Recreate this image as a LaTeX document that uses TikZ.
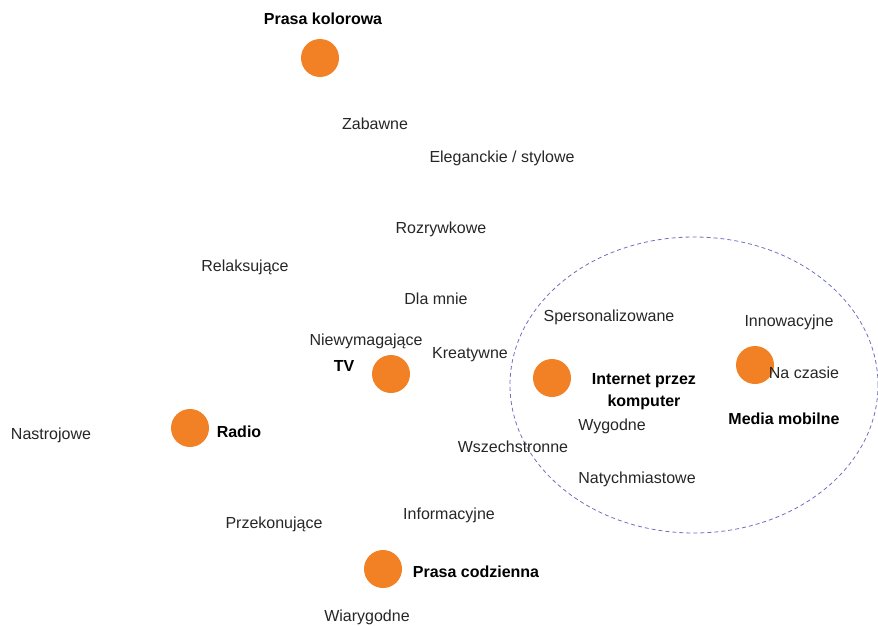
\documentclass[tikz,border=0pt]{standalone}
\usepackage{fontspec}
\setmainfont{Liberation Sans}
\usepackage{tikz}
\usetikzlibrary{positioning}
\definecolor{mediaorange}{RGB}{242,128,36}
\definecolor{clusterblue}{RGB}{112,112,192}
\tikzset{
  medium/.style={circle, fill=mediaorange, minimum size=38pt, inner sep=0pt},
  mediumlabel/.style={font=\fontsize{16}{22}\selectfont\bfseries, inner sep=0pt, align=center},
  trait/.style={inner sep=0pt, text=black!85},
  cluster/.style={draw=clusterblue, dash pattern=on 4pt off 3pt, line width=0.8pt}
}

\begin{document}
\begin{tikzpicture}[x=1pt, y=-1pt, every node/.style={font=\fontsize{16}{22}\selectfont}]
      \useasboundingbox (0,0) rectangle (878,626);
      \draw[cluster] (694,385) ellipse (184pt and 148pt);
      % media
      \node[medium] (kolorowa) at (320,58) {};
      \node[medium] (tv) at (391,374) {};
      \node[medium] (radio) at (190,428) {};
      \node[medium] (codzienna) at (383,569) {};
      \node[medium] (internet) at (552,378) {};
      \node[medium] (mobilne) at (755,365) {};
      \node[mediumlabel] (kolorowaL) at (323,19) {Prasa kolorowa};
      \node[mediumlabel] (tvL) at (344,366) {TV};
      \node[mediumlabel] (radioL) at (239,432) {Radio};
      \node[mediumlabel] (codziennaL) at (476,572) {Prasa codzienna};
      \node[mediumlabel] (internetL) at (644,392) {Internet przez\\komputer};
      \node[mediumlabel] (mobilneL) at (784,419) {Media mobilne};
      % cechy
      \node[trait] (zabawne) at (375,124) {Zabawne};
      \node[trait] (eleganckie) at (502,158) {Eleganckie / stylowe};
      \node[trait] (rozrywkowe) at (441,229) {Rozrywkowe};
      \node[trait] (relaksujace) at (245,267) {Relaksujące};
      \node[trait] (dlamnie) at (436,299) {Dla mnie};
      \node[trait] (niewymagajace) at (366,341) {Niewymagające};
      \node[trait] (kreatywne) at (470,355) {Kreatywne};
      \node[trait] (spersonalizowane) at (609,317) {Spersonalizowane};
      \node[trait] (innowacyjne) at (789,322) {Innowacyjne};
      \node[trait] (naczasie) at (804,373) {Na czasie};
      \node[trait] (wygodne) at (612,426) {Wygodne};
      \node[trait] (wszechstronne) at (513,447) {Wszechstronne};
      \node[trait] (natychmiastowe) at (637,479) {Natychmiastowe};
      \node[trait] (nastrojowe) at (51,435) {Nastrojowe};
      \node[trait] (przekonujace) at (274,524) {Przekonujące};
      \node[trait] (informacyjne) at (449,515) {Informacyjne};
      \node[trait] (wiarygodne) at (367,617) {Wiarygodne};
    \end{tikzpicture}
\end{document}
